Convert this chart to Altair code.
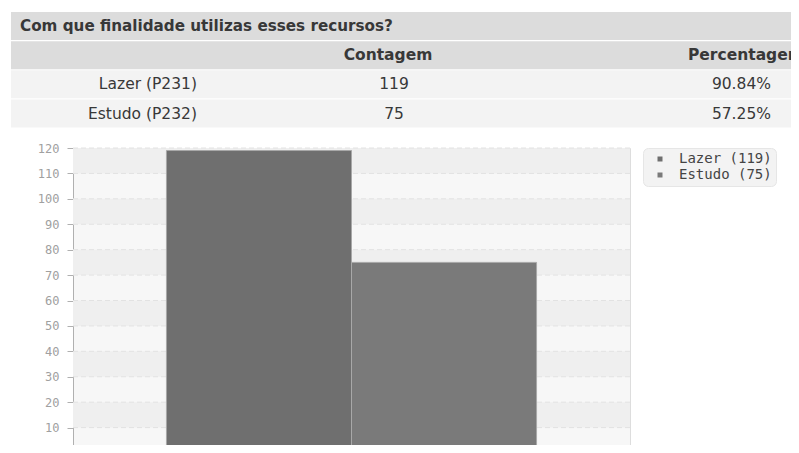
import altair as alt
import pandas as pd

# ---------------- data ----------------
title_text = "Com que finalidade utilizas esses recursos?"
column_headers = ["Contagem", "Percentagem"]
row_labels = ["Lazer (P231)", "Estudo (P232)"]
counts = [119, 75]
percentages = ["90.84%", "57.25%"]
series_names = ["Lazer", "Estudo"]
y_ticks = [0, 10, 20, 30, 40, 50, 60, 70, 80, 90, 100, 110, 120]
table_rows = ["title", "header", "row1", "row2"]

legend_labels = [f"{n} ({c})" for n, c in zip(series_names, counts)]
bar_colors = ["#6f6f6f", "#7a7a7a"]

W, H = 557, 305
FONT = "DejaVu Sans"

# ---------------- table (above the plot) ----------------
row_scale = alt.Scale(domain=table_rows, range=[-136, -20.5], paddingInner=0.04, paddingOuter=0)


def row_y():
    return alt.Y("row:N", scale=row_scale, axis=None)


head_df = pd.DataFrame({"row": table_rows[:2]})
body_df = pd.DataFrame({"row": table_rows[2:], "label": row_labels,
                        "count": counts, "pct": percentages})
title_df = pd.DataFrame({"row": ["title"], "text": [title_text]})
h1_df = pd.DataFrame({"row": ["header"], "text": [column_headers[0]]})
h2_df = pd.DataFrame({"row": ["header"], "text": [column_headers[1]]})

head_rect = alt.Chart(head_df).mark_rect(color="#dcdcdc").encode(
    x=alt.value(-62), x2=alt.value(760), y=row_y())
body_rect = alt.Chart(body_df).mark_rect(color="#f3f3f3").encode(
    x=alt.value(-62), x2=alt.value(760), y=row_y())

txt = dict(font=FONT, fontSize=15.5, baseline="middle", color="#383838")

title_t = alt.Chart(title_df).mark_text(align="left", fontWeight="bold",
                                        **{**txt, "fontSize": 15.2}).encode(
    x=alt.value(-53), y=row_y(), text="text:N")
h1_t = alt.Chart(h1_df).mark_text(align="center", fontWeight="bold", **txt).encode(
    x=alt.value(315), y=row_y(), text="text:N")
h2_t = alt.Chart(h2_df).mark_text(align="left", fontWeight="bold", **txt).encode(
    x=alt.value(615), y=row_y(), text="text:N")
lab_t = alt.Chart(body_df).mark_text(align="right", **txt).encode(
    x=alt.value(124), y=row_y(), text="label:N")
cnt_t = alt.Chart(body_df).mark_text(align="center", **txt).encode(
    x=alt.value(321), y=row_y(), text="count:Q")
pct_t = alt.Chart(body_df).mark_text(align="right", **txt).encode(
    x=alt.value(698), y=row_y(), text="pct:N")

table = alt.layer(head_rect, body_rect, title_t, h1_t, h2_t, lab_t, cnt_t, pct_t)

# ---------------- bar chart ----------------
y_scale = alt.Scale(domain=[0, 120], nice=False)
y_axis = alt.Axis(values=y_ticks, title=None, grid=False,
                  domainColor="#b0b0b0", tickColor="#b0b0b0", tickSize=6,
                  labelPadding=8, labelColor="#a0a0a0",
                  labelFont="DejaVu Sans Mono", labelFontSize=12)

bands_df = pd.DataFrame({"lo": y_ticks[1:-1:2], "hi": y_ticks[2::2]})
grid_df = pd.DataFrame({"v": y_ticks})
bars_df = pd.DataFrame({"cat": series_names, "count": counts, "legend": legend_labels})

bands = alt.Chart(bands_df).mark_rect(color="#efefef").encode(
    x=alt.value(0), x2=alt.value(W),
    y=alt.Y("lo:Q", scale=y_scale, axis=y_axis), y2="hi:Q")

grid = alt.Chart(grid_df).mark_rule(color="#e2e2e2", strokeDash=[5, 3], strokeWidth=1).encode(
    x=alt.value(0), x2=alt.value(W),
    y=alt.Y("v:Q", scale=y_scale, axis=y_axis))

bars = alt.Chart(bars_df).mark_bar(stroke="#a8a8a8", strokeWidth=1).encode(
    x=alt.X("cat:N", sort=series_names,
            scale=alt.Scale(paddingInner=0, paddingOuter=0.505), axis=None),
    y=alt.Y("count:Q", scale=y_scale, axis=y_axis),
    color=alt.Color("legend:N", sort=legend_labels,
                    scale=alt.Scale(domain=legend_labels, range=bar_colors),
                    legend=alt.Legend(title=None, orient="right", offset=13,
                                      fillColor="#f3f3f3", strokeColor="#e6e6e6",
                                      cornerRadius=5, padding=4,
                                      symbolType="square", symbolSize=25,
                                      symbolOffset=6, symbolStrokeWidth=0,
                                      labelOffset=12, labelFont="DejaVu Sans Mono",
                                      labelFontSize=14, labelColor="#444444",
                                      rowPadding=2)),
)

plot = alt.layer(bands, grid, bars)

chart = (
    alt.layer(table, plot)
    .resolve_scale(y="independent")
    .properties(width=W, height=H,
                autosize=alt.AutoSizeParams(type="none"),
                padding={"left": 65, "top": 140, "right": 161, "bottom": -8})
    .configure_view(fill="#f7f7f7", stroke="#dddddd")
)

chart.save("out.html", embed_options={"renderer": "svg", "actions": False})
